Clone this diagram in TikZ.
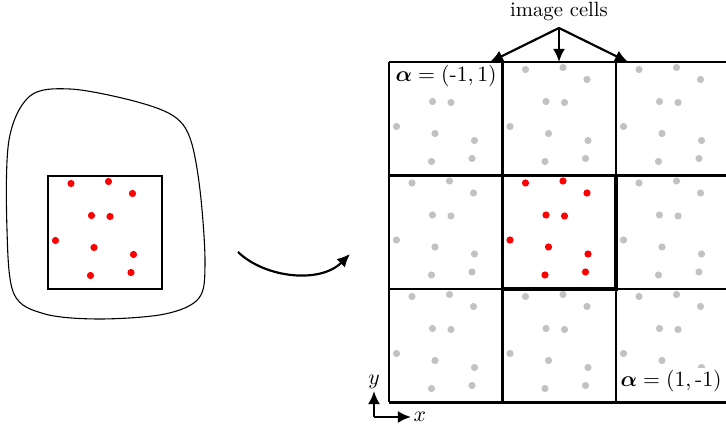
\documentclass[tikz,border=0pt]{standalone}
\usepackage{amsmath,bm}
\usetikzlibrary{arrows.meta}
\begin{document}
\begin{tikzpicture}[x=0.46pt,y=-0.46pt,
  reddot/.style={fill=red},
  graydot/.style={fill=black!24},
  gridline/.style={line width=1pt},
  lbl/.style={fill=white,inner sep=1pt},
  arr/.style={line width=1pt,-{Latex[length=6pt,width=5.5pt]}}]
\useasboundingbox (0,0) rectangle (726,425);
% blob
\draw[line width=0.5pt] plot[smooth cycle,tension=0.55] coordinates {
 (30,96) (70,89) (130,100) (172,115) (190,138) (200,190) (205,262) (199,298)
 (165,314) (100,319) (45,314) (14,294) (7,230) (9,140)};
% dots pattern
\def\dotpattern{23/7.5,60.5/5.5,84.5/17.5,43.5/39.5,62/40.5,7.5/64.5,46/71.5,85.5/78.5,42.5/99.5,83/96.5}
% left square
\foreach \dx/\dy in \dotpattern { \fill[reddot] (48+\dx,176+\dy) circle (3.6); }
\draw[line width=1.2pt] (48,176) rectangle (162,289);
% grid dots
\foreach \i in {0,1,2} {
  \foreach \j in {0,1,2} {
    \pgfmathsetmacro{\cx}{389+113.5*\i}
    \pgfmathsetmacro{\cy}{62+113.5*\j}
    \ifnum\i=1 \ifnum\j=1
      \foreach \dx/\dy in \dotpattern { \fill[reddot] (\cx+\dx,\cy+\dy) circle (3.6); }
    \else
      \foreach \dx/\dy in \dotpattern { \fill[graydot] (\cx+\dx,\cy+\dy) circle (3.6); }
    \fi
    \else
      \foreach \dx/\dy in \dotpattern { \fill[graydot] (\cx+\dx,\cy+\dy) circle (3.6); }
    \fi
  }
}
% labels
\node[lbl,anchor=west] (al1) at (393,76) {$\bm{\alpha} = (\text{-}1, 1)$};
\node[lbl,anchor=west] (al2) at (618,381) {$\bm{\alpha} = (1, \text{-}1)$};
% grid lines
\foreach \k in {0,1,2,3} {
  \draw[gridline] (389+113.5*\k,62) -- (389+113.5*\k,402.5);
  \draw[gridline] (389,62+113.5*\k) -- (729.5,62+113.5*\k);
}
\draw[line width=1.6pt] (502.5,175.5) rectangle (616,289);
% image cells
\node[font=\fontsize{9.5}{11}\selectfont] (ic) at (559,11) {image cells};
\coordinate (top) at (559,28);
\coordinate (t1) at (490,62);
\coordinate (t2) at (559,62);
\coordinate (t3) at (628,62);
\draw[arr] (top) -- (t1);
\draw[arr] (top) -- (t2);
\draw[arr] (top) -- (t3);
% curved arrow
\coordinate (ca) at (238,252);
\coordinate (cb) at (350,254);
\draw[arr] (ca) .. controls (265,278) and (320,284) .. (cb);
% axes
\coordinate (o) at (374,417);
\coordinate (oy) at (374,391);
\coordinate (ox) at (411,417);
\draw[arr] (o) -- (oy);
\draw[arr] (o) -- (ox);
\node[anchor=south,inner sep=1pt] (ly) at (oy) {$y$};
\node[anchor=west,inner sep=1pt] (lx) at (ox) {$x$};
\end{tikzpicture}
\end{document}
